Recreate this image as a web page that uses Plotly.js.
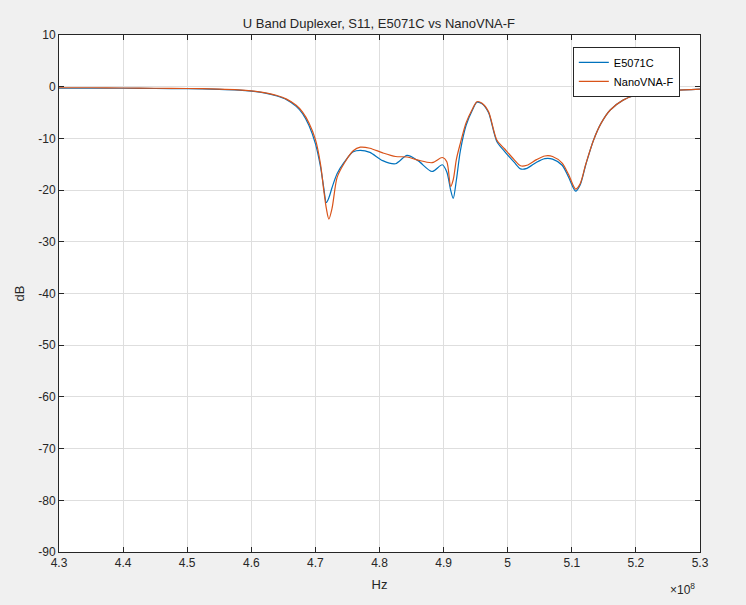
<!DOCTYPE html>
<html>
<head>
<meta charset="utf-8">
<script src="https://cdn.plot.ly/plotly-3.0.1.min.js"></script>
<style>html,body{margin:0;padding:0;background:#f0f0f0;}#chart{width:746px;height:605px;}</style>
</head>
<body>
<div id="chart"></div>
<script>
// Frequency in MHz
const freqMHz = [430,435,440,445,450,455,458,460,462,464,465.5,467,468,469,470,470.8,471.3,471.7,472.1,472.6,473.4,474.5,475.9,477,478.5,480.5,482.5,484.3,486,488.2,489.8,490.5,491.1,491.5,492,492.6,493.5,494.5,495.2,496,497,498.3,499.5,501,502,503,504.5,505.8,507,508.5,509.5,510.6,511.3,512.2,513.4,514.6,516,518,520,523,526,530];
const e5071c = [-0.3,-0.3,-0.3,-0.35,-0.4,-0.5,-0.65,-0.85,-1.2,-1.8,-2.5,-3.8,-5.2,-7.5,-11,-15.5,-19.5,-22.4,-21.5,-19.5,-16.8,-14.6,-12.6,-12.3,-12.7,-14.3,-14.9,-13.3,-14.3,-16.4,-15.1,-16.5,-20,-21.6,-18,-12.5,-7.5,-4.5,-3.0,-3.3,-5,-10.6,-12.5,-14.6,-15.9,-15.8,-14.6,-13.9,-14.0,-15.2,-17.5,-20.2,-19,-15,-10.3,-7,-4.5,-2.6,-1.6,-1.0,-0.7,-0.45];
const nanovna = [-0.2,-0.2,-0.25,-0.3,-0.35,-0.45,-0.6,-0.8,-1.15,-1.7,-2.4,-3.6,-4.9,-7.0,-10.2,-15,-20,-23.5,-25.6,-23.5,-17.5,-14.8,-12.4,-11.7,-11.9,-12.8,-13.5,-13.6,-14.2,-14.7,-13.7,-14.5,-19.3,-18,-14,-11,-7,-4.3,-2.9,-3.2,-4.8,-10.3,-12,-14.1,-15.3,-15.2,-14.1,-13.4,-13.5,-14.8,-17,-19.8,-18.8,-14.9,-10.3,-7,-4.5,-2.6,-1.6,-1.0,-0.7,-0.45];
const xTickVals = [4.3e8,4.4e8,4.5e8,4.6e8,4.7e8,4.8e8,4.9e8,5.0e8,5.1e8,5.2e8,5.3e8];
const xTickText = ['4.3','4.4','4.5','4.6','4.7','4.8','4.9','5','5.1','5.2','5.3'];
const yTickVals = [10,0,-10,-20,-30,-40,-50,-60,-70,-80,-90];
const yTickText = ['10','0','-10','-20','-30','-40','-50','-60','-70','-80','-90'];

const freqHz = freqMHz.map(f => f * 1e6);
const FONT = 'Liberation Sans, Arial, Helvetica, sans-serif';
const TXT = '#262626';

const traces = [
  {x: freqHz, y: e5071c, name: 'E5071C', mode: 'lines', type: 'scatter',
   line: {color: '#0072BD', width: 1.2, shape: 'spline', smoothing: 0.8}},
  {x: freqHz, y: nanovna, name: 'NanoVNA-F', mode: 'lines', type: 'scatter',
   line: {color: '#D95319', width: 1.2, shape: 'spline', smoothing: 0.8}}
];

const axisCommon = {
  showgrid: true, gridcolor: '#dedede', gridwidth: 1,
  showline: true, linecolor: TXT, linewidth: 1, mirror: 'ticks',
  ticks: 'inside', ticklen: 5, tickcolor: TXT,
  zeroline: false,
  tickfont: {family: FONT, size: 12, color: TXT}
};

const layout = {
  width: 746, height: 605,
  paper_bgcolor: '#f0f0f0', plot_bgcolor: '#ffffff',
  margin: {l: 58.5, r: 46, t: 35, b: 53, pad: 0},
  title: {text: 'U Band Duplexer, S11, E5071C vs NanoVNA-F', font: {family: FONT, size: 13, color: TXT},
          x: 0.508, xanchor: 'center', y: 0.961, yanchor: 'middle'},
  xaxis: Object.assign({}, axisCommon, {
    range: [4.3e8, 5.3e8], tickmode: 'array', tickvals: xTickVals, ticktext: xTickText,
    title: {text: 'Hz', font: {family: FONT, size: 13, color: TXT}, standoff: 10}
  }),
  yaxis: Object.assign({}, axisCommon, {
    range: [-90, 10], tickmode: 'array', tickvals: yTickVals, ticktext: yTickText,
    title: {text: 'dB', font: {family: FONT, size: 13, color: TXT}, standoff: 10}
  }),
  showlegend: true,
  legend: {x: 0.8016, y: 0.977, xanchor: 'left', yanchor: 'top',
           bgcolor: '#ffffff', bordercolor: TXT, borderwidth: 1,
           font: {family: FONT, size: 11, color: '#000000'}, tracegroupgap: 0},
  annotations: [{xref: 'paper', yref: 'paper', x: 0.996, y: -0.052, xanchor: 'right', yanchor: 'top',
                 text: '×10<sup>8</sup>', showarrow: false, font: {family: FONT, size: 12, color: TXT}}]
};

Plotly.newPlot('chart', traces, layout, {displayModeBar: false, staticPlot: true});
</script>
</body>
</html>
